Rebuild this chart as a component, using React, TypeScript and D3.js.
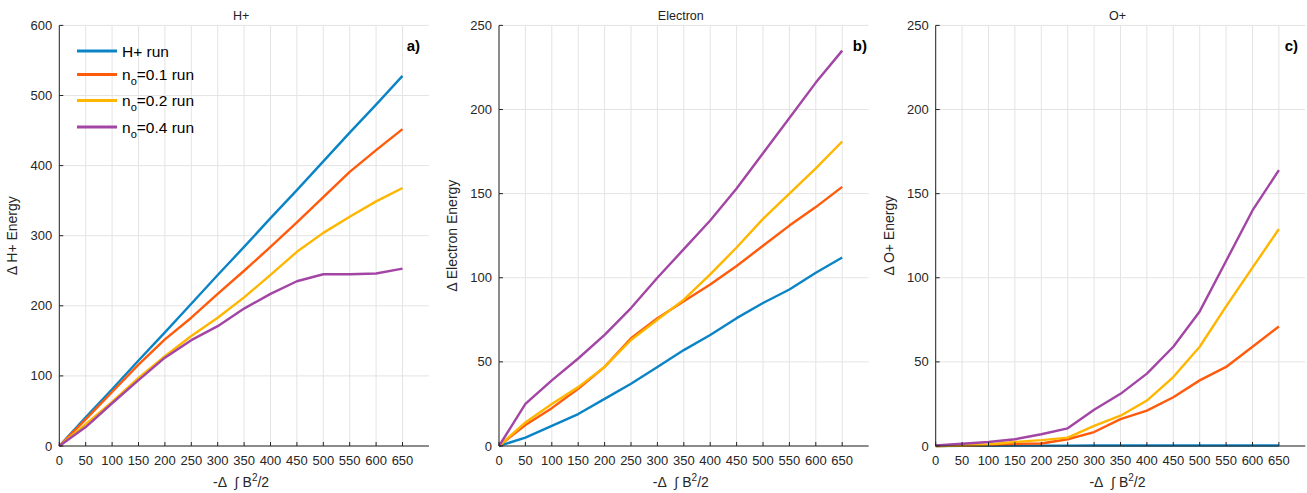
import React, { useEffect, useRef } from 'react';
import * as d3 from 'd3';

// x values of the runs
const xValues = [0, 50, 100, 150, 200, 250, 300, 350, 400, 450, 500, 550, 600, 650];
const xTicks = [0, 50, 100, 150, 200, 250, 300, 350, 400, 450, 500, 550, 600, 650];

const seriesNames = ['H+ run', 'n_o=0.1 run', 'n_o=0.2 run', 'n_o=0.4 run'];
const seriesColors = ['#0b84c7', '#ff5b0b', '#ffb600', '#a245a4'];

// panel a) H+ energy
const hBlue = [0, 41, 81, 122, 162, 203, 244, 284, 325, 365, 406, 447, 487, 528];
const hOrange = [0, 38, 77, 116, 152, 183, 217, 250, 284, 319, 355, 391, 422, 452];
const hYellow = [0, 31, 63, 97, 128, 157, 183, 212, 244, 277, 304, 327, 349, 368];
const hPurple = [0, 27, 61, 94, 126, 151, 171, 196, 217, 235, 245, 245, 246, 253];

// panel b) electron energy
const eBlue = [0, 5, 12, 19, 28, 37, 47, 57, 66, 76, 85, 93, 103, 112];
const eOrange = [0, 12.5, 22.5, 34, 47, 64, 76, 86, 96, 107, 119, 131, 142, 154];
const eYellow = [0, 14, 25, 35, 47, 63, 75, 87, 102, 118, 135, 150, 165, 181];
const ePurple = [0, 25, 39, 52, 66, 82, 100, 117, 134, 153, 174, 195, 216, 235];

// panel c) O+ energy
const oBlue = [0, 0.1, 0.1, 0.2, 0.2, 0.2, 0.3, 0.3, 0.3, 0.3, 0.3, 0.3, 0.3, 0.3];
const oOrange = [0, 0.2, 0.5, 1.3, 1.5, 4, 8.3, 16, 21, 29, 39, 47, 59, 71];
const oYellow = [0, 0.3, 0.9, 2.4, 3.5, 5, 12, 18, 27, 41, 59, 83, 106, 129];
const oPurple = [0.3, 1.3, 2.4, 4, 7, 10.5, 21.5, 31, 43, 59, 80, 110, 140, 164];

const hTicks = [0, 100, 200, 300, 400, 500, 600];
const eTicks = [0, 50, 100, 150, 200, 250];
const oTicks = [0, 50, 100, 150, 200, 250];

const panels = [
  { title: 'H+', ylabel: 'Δ H+ Energy', tag: 'a)', tagX: 658, left: 59.3, yMax: 600, yTicks: hTicks, series: [hBlue, hOrange, hYellow, hPurple], legend: true },
  { title: 'Electron', ylabel: 'Δ Electron Energy', tag: 'b)', tagX: 670, left: 499, yMax: 250, yTicks: eTicks, series: [eBlue, eOrange, eYellow, ePurple], legend: false },
  { title: 'O+', ylabel: 'Δ O+ Energy', tag: 'c)', tagX: 661, left: 935.7, yMax: 250, yTicks: oTicks, series: [oBlue, oOrange, oYellow, oPurple], legend: false },
];

const W = 1307;
const H = 493;
const plotW = 369.6;
const top = 25.4;
const bottom = 446;
const font = "'Liberation Sans', Arial, Helvetica, sans-serif";
const axisColor = '#262626';

const App = () => {
  const ref = useRef<SVGSVGElement>(null);

  useEffect(() => {
    if (!ref.current) return;
    const svg = d3.select(ref.current);
    svg.selectAll('*').remove();

    panels.forEach((p) => {
      const x = d3.scaleLinear().domain([0, 700]).range([p.left, p.left + plotW]);
      const y = d3.scaleLinear().domain([0, p.yMax]).range([bottom, top]);
      const g = svg.append('g');

      // grid
      g.selectAll('.vgrid')
        .data(xTicks)
        .enter()
        .append('line')
        .attr('x1', (d) => x(d)).attr('x2', (d) => x(d))
        .attr('y1', top).attr('y2', bottom)
        .attr('stroke', '#e4e4e4').attr('stroke-width', 1);
      g.selectAll('.hgrid')
        .data(p.yTicks)
        .enter()
        .append('line')
        .attr('x1', p.left).attr('x2', p.left + plotW)
        .attr('y1', (d) => y(d)).attr('y2', (d) => y(d))
        .attr('stroke', '#e4e4e4').attr('stroke-width', 1);

      // lines
      const line = d3.line<number>()
        .x((_, i) => x(xValues[i]))
        .y((d) => y(d));
      p.series.forEach((s, i) => {
        g.append('path')
          .datum(s)
          .attr('fill', 'none')
          .attr('stroke', seriesColors[i])
          .attr('stroke-width', 2.4)
          .attr('stroke-linejoin', 'round')
          .attr('d', line);
      });

      // axes (left + bottom, ticks pointing inward)
      g.append('line')
        .attr('x1', p.left).attr('x2', p.left + plotW)
        .attr('y1', bottom).attr('y2', bottom)
        .attr('stroke', axisColor);
      g.append('line')
        .attr('x1', p.left).attr('x2', p.left)
        .attr('y1', top).attr('y2', bottom)
        .attr('stroke', axisColor);
      g.selectAll('.xtick')
        .data(xTicks)
        .enter()
        .append('line')
        .attr('x1', (d) => x(d)).attr('x2', (d) => x(d))
        .attr('y1', bottom).attr('y2', bottom - 4)
        .attr('stroke', axisColor);
      g.selectAll('.ytick')
        .data(p.yTicks)
        .enter()
        .append('line')
        .attr('x1', p.left).attr('x2', p.left + 4)
        .attr('y1', (d) => y(d)).attr('y2', (d) => y(d))
        .attr('stroke', axisColor);

      g.selectAll('.xlab')
        .data(xTicks)
        .enter()
        .append('text')
        .attr('x', (d) => x(d))
        .attr('y', 465)
        .attr('text-anchor', 'middle')
        .attr('font-size', 13)
        .attr('font-family', font)
        .attr('fill', axisColor)
        .text((d) => d);
      g.selectAll('.ylab')
        .data(p.yTicks)
        .enter()
        .append('text')
        .attr('x', p.left - 7)
        .attr('y', (d) => y(d))
        .attr('dy', '0.35em')
        .attr('text-anchor', 'end')
        .attr('font-size', 13)
        .attr('font-family', font)
        .attr('fill', axisColor)
        .text((d) => d);

      // title
      g.append('text')
        .attr('x', p.left + plotW / 2 - 3)
        .attr('y', 19.5)
        .attr('text-anchor', 'middle')
        .attr('font-size', 12.5)
        .attr('font-family', font)
        .attr('fill', '#222')
        .text(p.title);

      // x label
      const xl = g.append('text')
        .attr('x', p.left + plotW / 2 - 3)
        .attr('y', 487)
        .attr('text-anchor', 'middle')
        .attr('font-size', 14)
        .attr('font-family', font)
        .attr('fill', axisColor);
      xl.append('tspan').text('-Δ\u00a0\u00a0∫\u00a0B');
      xl.append('tspan').attr('font-size', 10).attr('dy', -6).text('2');
      xl.append('tspan').attr('dy', 6).text('/2');

      // y label
      g.append('text')
        .attr('transform', `translate(${p.left - 42},${(top + bottom) / 2}) rotate(-90)`)
        .attr('text-anchor', 'middle')
        .attr('font-size', 14)
        .attr('font-family', font)
        .attr('fill', axisColor)
        .text(p.ylabel);

      // panel tag
      g.append('text')
        .attr('x', x(p.tagX))
        .attr('y', 51)
        .attr('font-size', 15)
        .attr('font-weight', 'bold')
        .attr('font-family', font)
        .attr('fill', '#000')
        .text(p.tag);

      // legend
      if (p.legend) {
        const rowY = [51, 74.5, 100.5, 127];
        seriesNames.forEach((name, i) => {
          g.append('line')
            .attr('x1', 77).attr('x2', 117)
            .attr('y1', rowY[i]).attr('y2', rowY[i])
            .attr('stroke', seriesColors[i])
            .attr('stroke-width', 3);
          const t = g.append('text')
            .attr('x', 122)
            .attr('y', rowY[i] + 5.5)
            .attr('font-size', 15.5)
            .attr('font-family', font)
            .attr('fill', '#000');
          if (name.startsWith('n_o')) {
            t.append('tspan').text('n');
            t.append('tspan').attr('font-size', 11).attr('dy', 5).text('o');
            t.append('tspan').attr('dy', -5).text(name.slice(3));
          } else {
            t.text(name);
          }
        });
      }
    });
  }, []);

  return (
    <div style={{ position: 'absolute', left: 0, top: 0 }}>
      <svg ref={ref} width={W} height={H} style={{ display: 'block', background: '#fff' }}></svg>
    </div>
  );
};

export default App;
